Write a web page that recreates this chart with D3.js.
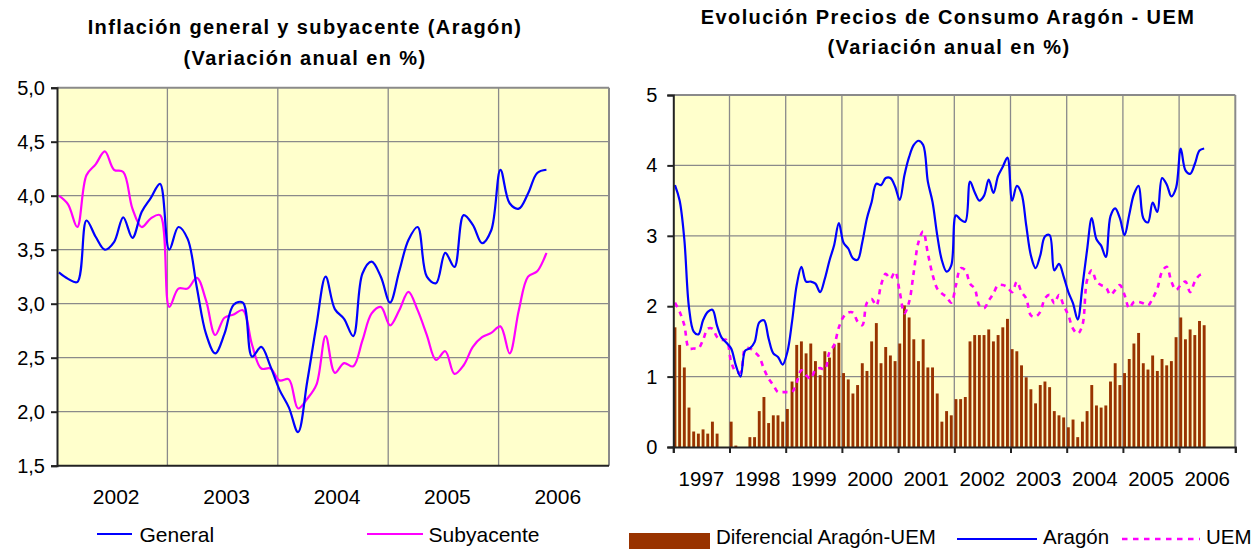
<!DOCTYPE html>
<html lang="es">
<head>
<meta charset="UTF-8">
<title>Inflación Aragón</title>
<style>
  body { margin: 0; background: #fff; }
  text { font-family: "Liberation Sans", Arial, sans-serif; fill: #000; }
</style>
</head>
<body>
<script src="https://d3js.org/d3.v7.min.js"></script>
<script>
// ---- datos: grafico izquierdo (mensual, ene 2002 - jun 2006) ----
const leftYears = ["2002", "2003", "2004", "2005", "2006"];
const leftTicks = [1.5, 2.0, 2.5, 3.0, 3.5, 4.0, 4.5, 5.0];
const general = [3.29, 3.23, 3.20, 3.77, 3.62, 3.50, 3.57, 3.80, 3.61, 3.85, 3.98, 4.11,
                 3.50, 3.71, 3.60, 3.15, 2.72, 2.54, 2.72, 2.99, 3.01, 2.51, 2.60, 2.42,
                 2.20, 2.04, 1.81, 2.28, 2.80, 3.25, 2.95, 2.86, 2.70, 3.28, 3.39, 3.25,
                 3.01, 3.30, 3.59, 3.71, 3.25, 3.19, 3.47, 3.34, 3.82, 3.73, 3.56, 3.68,
                 4.24, 3.93, 3.88, 4.02, 4.21, 4.24];
const subyacente = [4.00, 3.92, 3.71, 4.19, 4.29, 4.41, 4.24, 4.22, 3.88, 3.71, 3.79, 3.82,
                    2.97, 3.14, 3.14, 3.24, 3.03, 2.71, 2.87, 2.90, 2.94, 2.62, 2.40, 2.40,
                    2.29, 2.30, 2.03, 2.12, 2.25, 2.70, 2.36, 2.45, 2.42, 2.66, 2.91, 2.97,
                    2.80, 2.94, 3.11, 2.94, 2.71, 2.48, 2.56, 2.35, 2.43, 2.60, 2.69, 2.73,
                    2.79, 2.54, 2.94, 3.25, 3.30, 3.47];

// ---- datos: grafico derecho (mensual, ene 1997 - jun 2006) ----
const rightYears = ["1997", "1998", "1999", "2000", "2001", "2002", "2003", "2004", "2005", "2006"];
const rightTicks = [0, 1, 2, 3, 4, 5];
const aragonHasta2001 = [3.72, 3.50, 2.95, 1.98, 1.64, 1.60, 1.80, 1.92, 1.95, 1.72, 1.55, 1.48,
                         1.40, 1.16, 1.00, 1.37, 1.40, 1.49, 1.77, 1.80, 1.54, 1.33, 1.28, 1.17,
                         1.35, 1.78, 2.30, 2.56, 2.35, 2.35, 2.32, 2.20, 2.39, 2.65, 2.87, 3.18,
                         2.90, 2.82, 2.68, 2.66, 2.91, 3.25, 3.48, 3.74, 3.72, 3.82, 3.82, 3.70,
                         3.51, 3.86, 4.12, 4.29, 4.35, 4.29, 3.77, 3.48, 3.01, 2.65, 2.49, 2.58];
const aragon = aragonHasta2001.concat(general);
const uem = [2.05, 1.92, 1.73, 1.40, 1.40, 1.40, 1.52, 1.68, 1.68, 1.56, 1.52, 1.52,
             1.21, 1.07, 1.06, 1.40, 1.40, 1.35, 1.28, 1.11, 0.97, 0.88, 0.78, 0.78,
             0.78, 0.78, 0.92, 1.09, 1.02, 0.97, 1.10, 1.12, 1.10, 1.35, 1.45, 1.70,
             1.85, 1.91, 1.91, 1.78, 1.73, 2.05, 2.10, 2.01, 2.30, 2.46, 2.39, 2.49,
             2.20, 1.90, 2.06, 2.49, 2.91, 3.06, 2.75, 2.45, 2.25, 2.18, 2.13, 2.05,
             2.30, 2.54, 2.51, 2.32, 2.25, 2.01, 1.97, 2.08, 2.18, 2.30, 2.30, 2.27,
             2.20, 2.35, 2.20, 2.11, 1.87, 1.85, 1.92, 2.11, 2.16, 2.04, 2.16, 2.01,
             1.87, 1.68, 1.61, 1.73, 2.37, 2.51, 2.35, 2.30, 2.27, 2.16, 2.23, 2.30,
             2.16, 1.97, 2.06, 2.06, 2.04, 2.01, 2.11, 2.25, 2.49, 2.56, 2.35, 2.23,
             2.30, 2.35, 2.20, 2.35, 2.44, 2.46];
const diferencial = [1.70, 1.45, 1.13, 0.56, 0.22, 0.19, 0.25, 0.19, 0.36, 0.19, 0, 0,
                     0.36, 0.02, 0, 0, 0.14, 0.14, 0.51, 0.71, 0.34, 0.45, 0.45, 0.36,
                     0.54, 0.93, 1.45, 1.50, 1.33, 1.47, 1.22, 1.02, 1.36, 1.27, 1.45, 1.48,
                     1.05, 0.96, 0.76, 0.88, 1.19, 1.08, 1.50, 1.76, 1.19, 1.42, 1.30, 1.22,
                     1.47, 2.01, 1.84, 1.53, 1.22, 1.53, 1.13, 1.13, 0.76, 0.36, 0.51, 0.45,
                     0.68, 0.68, 0.71, 1.50, 1.59, 1.59, 1.59, 1.67, 1.50, 1.59, 1.70, 1.82,
                     1.39, 1.36, 1.16, 0.99, 0.82, 0.62, 0.88, 0.93, 0.85, 0.51, 0.45, 0.42,
                     0.28, 0.39, 0.14, 0.36, 0.51, 0.88, 0.59, 0.56, 0.59, 0.93, 1.19, 0.88,
                     1.05, 1.25, 1.47, 1.62, 1.19, 1.10, 1.30, 1.08, 1.25, 1.16, 1.22, 1.56,
                     1.84, 1.53, 1.67, 1.59, 1.79, 1.73];

const W = 1255, H = 549;
const BG = "#FFFFCC", GRID = "#8a8a8a";
const BLUE = "#0000FF", MAGENTA = "#FF00FF", BROWN = "#993300";

let svg = d3.select("body").append("svg")
    .attr("width", W)
    .attr("height", H);

function drawLine(x1, y1, x2, y2, c, l, dash) {
    let ln = svg.append("line")
        .attr("x1", x1).attr("y1", y1)
        .attr("x2", x2).attr("y2", y2)
        .attr("stroke", c)
        .attr("stroke-width", l);
    if (dash) ln.attr("stroke-dasharray", dash);
    return ln;
}

function drawText(x, y, s, size, anchor = "start", bold = false) {
    return svg.append("text")
        .attr("x", x).attr("y", y)
        .attr("text-anchor", anchor)
        .style("font-size", size + "px")
        .style("font-weight", bold ? "bold" : "normal")
        .style("letter-spacing", bold ? "1.4px" : "0px")
        .text(s);
}

// ================= grafico izquierdo =================
const L = {x0: 57, x1: 609, y0: 87.7, y1: 465.7};
let xL = d3.scaleLinear().domain([0, 60]).range([L.x0, L.x1]);
let yL = d3.scaleLinear().domain([1.5, 5]).range([L.y1, L.y0]);

svg.append("rect")
    .attr("x", L.x0).attr("y", L.y0)
    .attr("width", L.x1 - L.x0).attr("height", L.y1 - L.y0)
    .attr("fill", BG);

leftTicks.slice(1, -1).forEach(v => drawLine(L.x0, yL(v), L.x1, yL(v), GRID, 1.3));
[12, 24, 36, 48].forEach(m => drawLine(xL(m), L.y0, xL(m), L.y1, GRID, 1.3));
drawLine(L.x0, L.y0, L.x1, L.y0, GRID, 2);
drawLine(L.x1, L.y0, L.x1, L.y1, GRID, 2);

let lineL = d3.line()
    .x((d, i) => xL(i + 0.2))
    .y(d => yL(d))
    .curve(d3.curveCatmullRom.alpha(0.5));

svg.append("path").attr("d", lineL(subyacente))
    .attr("fill", "none").attr("stroke", MAGENTA).attr("stroke-width", 2.2);
svg.append("path").attr("d", lineL(general))
    .attr("fill", "none").attr("stroke", BLUE).attr("stroke-width", 2.2);

let axL = svg.append("g")
    .attr("transform", "translate(" + L.x0 + ",0)")
    .call(d3.axisLeft(yL).tickValues(leftTicks).tickSize(6).tickPadding(6)
        .tickFormat(d => d.toFixed(1).replace(".", ",")));
axL.select(".domain").attr("stroke", "#222").attr("stroke-width", 2);
axL.selectAll(".tick line").attr("stroke", "#222").attr("stroke-width", 2);
axL.selectAll("text").style("font-size", "20px").attr("fill", "#000");
drawLine(L.x0, L.y1, L.x1, L.y1, "#222", 2);

leftYears.forEach((s, i) => drawText(xL(12 * i + 6) + 4, 504, s, 21, "middle"));

drawText(305, 34, "Inflación general y subyacente (Aragón)", 20, "middle", true);
drawText(305, 65, "(Variación anual en %)", 20, "middle", true);

drawLine(97, 534, 132, 534, BLUE, 2.2);
drawText(139.5, 541.5, "General", 21);
drawLine(367, 534, 423, 534, MAGENTA, 2.2);
drawText(428.6, 541.5, "Subyacente", 21);

// ================= grafico derecho =================
const R = {x0: 673.3, x1: 1235.3, y0: 95, y1: 447};
let xR = d3.scaleLinear().domain([0, 120]).range([R.x0, R.x1]);
let yR = d3.scaleLinear().domain([0, 5]).range([R.y1, R.y0]);
const step = xR(1) - xR(0);
const barW = step * 0.62;

svg.append("rect")
    .attr("x", R.x0).attr("y", R.y0)
    .attr("width", R.x1 - R.x0).attr("height", R.y1 - R.y0)
    .attr("fill", BG);

rightTicks.slice(1, -1).forEach(v => drawLine(R.x0, yR(v), R.x1, yR(v), GRID, 1.3));
d3.range(12, 120, 12).forEach(m => drawLine(xR(m), R.y0, xR(m), R.y1, GRID, 1.3));
drawLine(R.x0, R.y0, R.x1, R.y0, GRID, 2);
drawLine(R.x1, R.y0, R.x1, R.y1, GRID, 2);

svg.append("g").selectAll("rect")
    .data(diferencial)
    .enter()
    .append("rect")
    .attr("x", (d, i) => xR(i) + 0.2)
    .attr("y", d => yR(d))
    .attr("width", barW)
    .attr("height", d => yR(0) - yR(d))
    .attr("fill", BROWN);

let lineR = d3.line()
    .x((d, i) => xR(i) + 0.2 + barW / 2)
    .y(d => yR(d))
    .curve(d3.curveCatmullRom.alpha(0.5));

svg.append("path").attr("d", lineR(uem))
    .attr("fill", "none").attr("stroke", MAGENTA).attr("stroke-width", 2.6)
    .attr("stroke-dasharray", "5,5");
svg.append("path").attr("d", lineR(aragon))
    .attr("fill", "none").attr("stroke", BLUE).attr("stroke-width", 2.2);

let axR = svg.append("g")
    .attr("transform", "translate(" + R.x0 + ",0)")
    .call(d3.axisLeft(yR).tickValues(rightTicks).tickSize(6).tickPadding(10)
        .tickFormat(d3.format("d")));
axR.select(".domain").attr("stroke", "#222").attr("stroke-width", 2);
axR.selectAll(".tick line").attr("stroke", "#222").attr("stroke-width", 2);
axR.selectAll("text").style("font-size", "20px").attr("fill", "#000");

let axRb = svg.append("g")
    .attr("transform", "translate(0," + R.y1 + ")")
    .call(d3.axisBottom(xR).tickValues(d3.range(0, 121, 12)).tickSize(6).tickFormat(""));
axRb.select(".domain").attr("stroke", "#222").attr("stroke-width", 2);
axRb.selectAll(".tick line").attr("stroke", "#222").attr("stroke-width", 2);

rightYears.forEach((s, i) => drawText(xR(12 * i + 6), 485.5, s, 20.5, "middle"));

drawText(948, 24, "Evolución Precios de Consumo Aragón - UEM", 20, "middle", true);
drawText(949, 54, "(Variación anual en %)", 20, "middle", true);

svg.append("rect").attr("x", 629).attr("y", 533).attr("width", 81).attr("height", 16)
    .attr("fill", BROWN);
drawText(716, 544, "Diferencial Aragón-UEM", 20.5);
drawLine(957, 539, 1037, 539, BLUE, 2.2);
drawText(1043, 544, "Aragón", 20.5);
drawLine(1122, 539, 1200, 539, MAGENTA, 2.6, "5.5,5.5");
drawText(1206, 544, "UEM", 20.5);
</script>
</body>
</html>
